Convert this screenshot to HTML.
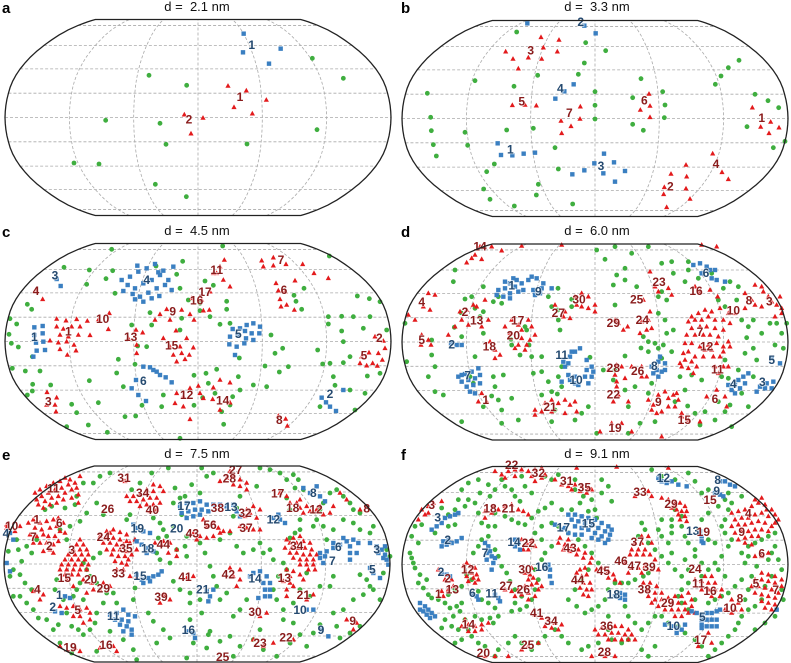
<!DOCTYPE html>
<html><head><meta charset="utf-8"><style>
html,body{margin:0;padding:0;background:#fff;}
svg{display:block;font-family:"Liberation Sans",sans-serif;}
.ttl{font-size:13px;fill:#111;}
.pl{font-size:15px;font-weight:bold;fill:#000;}
.lb{font-size:12px;font-weight:bold;paint-order:stroke;stroke:rgba(255,255,255,0.7);stroke-width:1.6px;}
</style></head><body>
<svg id="fig" width="791" height="663" viewBox="0 0 791 663" xmlns="http://www.w3.org/2000/svg"></svg>
<script>
// point coordinates are figure coordinates (3x zoom units, per panel frame)
const panelNames=["a","b","c","d","e","f"];
const panelTitles=["d =\u00a0 2.1 nm","d =\u00a0 3.3 nm","d =\u00a0 4.5 nm","d =\u00a0 6.0 nm","d =\u00a0 7.5 nm","d =\u00a0 9.1 nm"];
const greenA="937,175;1030,235;447,226;560,256;317,361;480,370;951,389;498,433;741,432;222,489;297,492;466,553;559,590";
const redA="684,258;739,272;799,300;702,322;757,341;553,344;609,354;573,401";
const blueA="731,101;729,157;842,146;807,191";
const labelsA=[["1",755,133,"b"],["1",720,290,"r"],["2",567,357,"r"]];
const greenB="365,96;572,128;632,152;568,189;550,223;428,226;240,242;357,259;97,280;600,275;600,316;600,357;107,352;109,392;210,397;415,385;335,390;218,436;115,434;124,468;480,443;298,492;275,515;490,507;266,567;430,553;424,585;285,598;358,618;533,612;738,236;803,275;713,293;810,315;808,353;713,373;745,391;1032,181;1000,203;978,228;961,253;1080,283;1119,302;1151,323;1056,380;1135,443;1170,424";
const redB="438,112;492,120;332,155;445,143;487,155;400,173;354,177;440,177;370,206;352,316;390,315;424,317;556,320;498,363;555,357;528,379;500,400;762,282;765,318;736,330;765,352;1072,323;1127,366;1097,381;1152,383;1122,400;953,461;873,495;981,517;1000,538;828,522;875,530;808,562;873,566;806,583;885,597;815,622";
const blueB="397,70;568,77;602,100;536,253;508,274;481,296;308,430;318,465;352,466;386,461;420,458;627,461;657,487;598,490;625,520;568,511;532,523;690,513;660,545";
const labelsB=[["2",557,65,"b"],["3",407,150,"r"],["4",496,264,"b"],["5",380,303,"r"],["6",748,300,"r"],["7",523,338,"r"],["1",1100,352,"r"],["1",346,447,"b"],["3",618,497,"b"],["4",963,490,"r"],["2",826,558,"r"]];
const greenC="668,78;335,88;192,142;268,150;338,152;318,176;548,124;468,138;530,163;260,193;82,253;95,268;345,220;540,205;565,240;600,250;615,183;640,196;680,244;680,268;630,290;600,272;660,313;690,310;30,296;50,312;27,343;34,370;55,381;97,410;37,445;76,453;120,453;98,493;152,495;97,513;82,525;215,553;230,578;295,548;268,482;350,459;355,418;395,315;413,378;440,380;405,433;455,315;450,278;545,295;540,330;618,460;582,466;650,448;625,490;490,525;485,560;582,556;665,575;671,613;540,655;322,637;265,615;200,620;370,500;407,588;426,556;375,590;715,470;795,438;760,495;800,500;825,400;848,385;813,345;718,414;698,530;720,510;838,456;865,440;888,244;882,226;905,268;912,205;988,108;953,390;968,432;990,430;1030,428;1050,410;1000,470;1005,496;1030,365;1025,333;985,312;985,290;1025,289;1060,290;1090,325;1110,290;1108,236;1072,228;1140,245;1160,330;1102,468;1140,460;1095,520;1065,570;960,560;1050,510;690,555;645,520;608,533";
const redC="170,297;198,302;230,298;262,303;170,320;190,327;215,320;240,320;180,345;205,350;235,345;270,346;175,368;200,365;222,375;180,388;202,405;228,392;150,362;108,210;128,238;328,280;325,328;295,300;408,330;428,338;410,375;410,400;385,355;500,268;545,270;570,283;480,283;510,300;582,300;465,300;490,355;528,332;560,355;540,380;580,383;510,380;520,405;545,400;555,418;568,405;530,425;575,235;605,240;630,215;628,270;610,272;670,180;690,200;650,160;673,120;660,140;640,160;785,122;820,113;790,140;820,137;858,133;908,133;942,160;985,175;828,190;885,182;855,215;840,238;860,255;843,260;883,270;835,212;525,550;550,530;570,505;530,520;595,498;550,560;570,598;610,535;640,503;600,520;660,480;690,488;660,570;690,548;638,538;141,517;170,533;165,555;168,575;140,555;835,588;857,597;862,618;1085,410;1107,398;1118,430;1135,400;1147,420;1155,385;1080,430;1100,437;1132,438;1125,350;1150,363";
const blueC="365,180;390,170;415,155;440,145;465,132;490,152;520,140;383,195;405,205;430,190;455,180;480,165;505,180;370,213;398,222;420,230;445,218;470,205;495,195;515,210;405,238;430,245;455,235;478,228;412,137;475,157;698,327;720,325;740,315;760,310;780,320;735,333;755,340;778,340;690,350;712,345;738,355;760,360;688,373;710,380;733,370;705,405;103,322;128,318;103,345;128,340;108,368;130,365;110,392;135,390;100,410;170,177;182,198;430,440;450,442;460,450;470,455;480,465;497,472;515,487;408,480;395,505;415,525;438,543;965,533;978,547;990,560;1008,573;1030,510";
const labelsC=[["4",108,212,"r"],["3",165,165,"b"],["10",308,295,"r"],["1",205,333,"r"],["1",103,350,"b"],["13",392,350,"r"],["9",518,273,"r"],["15",515,375,"r"],["4",440,178,"b"],["11",650,148,"r"],["17",615,215,"r"],["16",590,240,"r"],["7",843,118,"r"],["6",852,208,"r"],["5",715,340,"b"],["2",1138,352,"r"],["5",1092,405,"r"],["6",430,482,"b"],["12",560,523,"r"],["14",668,540,"r"],["3",145,543,"r"],["2",990,520,"b"],["8",838,598,"r"]];
const greenD="605,90;660,80;710,100;760,80;630,118;690,145;665,165;655,195;690,180;180,150;175,185;265,200;295,245;210,237;230,230;240,265;265,275;255,290;320,250;310,230;198,278;178,322;200,350;30,310;110,360;110,405;120,440;35,425;100,470;120,515;145,525;265,340;240,410;225,470;235,490;295,470;325,465;300,500;290,528;310,540;265,560;320,570;350,535;200,605;320,610;370,600;390,320;395,330;348,358;350,375;375,405;402,375;410,410;440,410;415,460;440,455;460,485;440,525;470,515;487,522;500,500;490,470;500,440;495,330;490,300;489,205;460,230;530,238;470,260;488,270;530,260;585,412;625,450;690,408;660,450;655,480;690,510;700,560;660,255;725,200;800,215;815,240;790,230;790,280;810,300;835,330;815,340;745,350;760,365;780,370;790,385;805,375;760,395;800,415;738,384;830,395;880,125;880,150;870,185;835,160;800,130;830,125;910,175;950,160;985,205;1005,185;1030,200;970,240;990,260;1025,240;1040,300;1075,300;1060,320;1100,340;1125,310;1145,310;1175,310;1160,340;1140,375;1165,385;1075,385;1085,420;1055,353;1050,400;1030,450;1075,470;990,420;980,470;1000,475;970,545;920,480;890,465;870,510;855,470;840,545;878,558;900,580;930,575;915,615;960,600;990,575;1005,555;1040,520;1060,560;1010,620;770,490;760,520;720,500;735,610;780,605;605,640;700,640;580,560;560,580;540,600;480,570;470,605";
const redD="215,128;240,105;255,80;290,80;320,92;380,78;230,115;260,118;500,75;100,220;120,225;85,260;105,270;40,285;60,300;195,275;215,270;235,255;245,260;270,240;260,320;280,300;200,300;220,315;80,345;100,360;108,375;78,375;160,345;180,320;285,365;300,390;315,405;300,415;350,300;370,315;400,300;410,320;380,330;345,340;380,355;370,375;395,375;405,360;420,345;330,320;360,385;390,390;480,255;505,290;525,295;510,275;540,230;560,220;580,230;600,255;580,265;600,275;560,260;545,255;670,310;685,330;698,320;660,300;740,305;760,300;770,325;755,330;735,340;745,240;765,275;765,155;780,200;820,205;830,225;790,215;900,200;915,215;945,210;968,230;890,290;910,280;930,270;950,275;975,265;1000,280;1020,280;880,305;900,300;920,300;940,290;960,300;985,300;1005,310;890,325;915,320;935,320;960,325;985,330;875,345;900,345;925,345;945,345;970,350;1000,365;870,370;890,370;915,380;940,375;965,370;985,380;865,400;880,395;900,410;930,390;950,390;985,395;1005,380;870,420;890,425;905,440;925,410;955,410;975,410;860,440;880,445;895,460;855,430;960,440;985,440;970,460;1000,440;1050,220;1070,240;1080,195;1100,200;1105,215;1120,230;1130,245;1145,255;1160,265;1140,290;1080,255;1100,260;1160,280;1050,265;260,520;275,545;250,545;420,570;440,575;450,550;470,540;490,550;510,540;525,555;540,545;545,575;510,580;470,575;420,585;640,450;665,435;680,440;660,465;665,485;690,475;665,500;670,525;655,545;700,545;710,440;740,440;740,470;755,470;760,540;775,555;790,525;810,515;820,535;835,525;850,540;770,570;785,580;800,575;820,560;840,560;860,580;845,520;860,590;880,600;915,605;965,510;990,530;995,560;935,530;615,635;650,610;680,610;710,635;800,650;1155,230;965,80;920,75";
const blueD="310,210;330,205;345,190;365,180;380,190;400,180;410,170;425,175;305,225;325,230;345,220;370,215;385,210;330,185;360,200;345,235;355,175;415,210;440,205;445,190;470,205;435,220;420,225;168,370;185,375;200,375;190,470;210,462;230,455;250,445;200,485;220,480;240,475;215,500;235,495;255,490;225,515;240,520;200,465;255,465;505,425;520,430;525,410;530,395;510,440;540,395;555,385;575,420;590,440;595,455;575,450;590,470;570,470;525,480;540,490;550,495;580,490;540,470;520,465;500,485;770,440;790,425;795,410;810,430;785,450;800,455;775,460;810,450;790,470;895,135;915,130;935,140;945,150;960,150;950,175;965,180;990,185;920,160;1000,495;1020,495;1030,480;1045,470;1050,490;1010,510;1020,520;1035,505;1060,460;1085,515;1095,500;1115,490;1135,485;1110,505;1130,505;1130,415;1155,430";
const labelsD=[["14",255,78,"r"],["1",350,195,"b"],["9",430,213,"b"],["4",80,245,"r"],["2",210,275,"r"],["13",245,300,"r"],["5",80,358,"r"],["2",170,372,"b"],["17",368,300,"r"],["20",355,345,"r"],["18",283,378,"r"],["27",490,278,"r"],["30",552,237,"r"],["29",655,308,"r"],["25",725,237,"r"],["24",742,298,"r"],["23",792,185,"r"],["16",903,212,"r"],["6",933,157,"b"],["8",1062,240,"r"],["3",1123,243,"r"],["10",1015,270,"r"],["7",915,335,"r"],["12",935,378,"r"],["11",967,447,"r"],["5",1130,418,"b"],["4",1015,490,"b"],["3",1102,485,"b"],["6",960,535,"r"],["7",218,465,"b"],["1",272,538,"r"],["11",500,403,"b"],["10",543,478,"b"],["28",655,443,"r"],["26",728,452,"r"],["8",778,437,"b"],["22",655,522,"r"],["21",465,560,"r"],["9",790,545,"r"],["15",868,598,"r"],["19",660,623,"r"]];
const greenE="50,290;25,325;55,320;80,310;110,290;95,330;65,355;40,380;60,395;30,400;75,420;95,440;60,460;40,460;80,480;100,500;115,525;140,530;175,545;200,510;215,550;235,560;250,575;270,560;285,540;290,510;310,480;320,450;290,420;270,400;260,380;250,360;280,345;300,330;240,420;230,440;220,460;135,200;155,190;195,195;225,185;230,160;250,120;280,120;300,100;330,90;290,180;260,210;310,215;240,235;210,250;180,260;200,290;170,410;165,440;190,470;250,470;340,450;350,480;400,470;405,435;445,510;460,535;490,560;510,585;470,600;400,620;370,590;330,565;290,625;215,630;180,600;160,560;505,75;455,90;420,120;395,140;390,215;380,230;460,225;480,240;490,260;475,285;500,280;520,250;545,215;540,165;520,180;555,160;525,135;605,75;640,90;620,100;600,150;575,125;560,280;555,310;560,340;530,320;510,360;480,350;470,330;520,415;540,440;570,450;600,470;570,480;605,510;570,530;630,565;625,575;580,600;620,615;660,595;690,580;700,520;720,500;740,470;680,450;660,470;650,430;640,400;630,370;615,330;600,300;660,290;690,270;700,220;710,195;720,160;770,130;780,75;810,80;840,90;860,110;880,95;895,110;885,135;910,140;860,165;870,200;900,230;900,260;885,270;870,285;780,300;760,320;730,330;710,310;790,330;810,320;820,350;850,360;860,380;835,400;820,440;830,470;850,500;850,530;880,540;900,575;870,600;920,610;940,570;960,545;1010,550;1020,585;1050,570;1080,550;1000,510;1030,500;1060,470;1090,455;1080,395;1100,410;1110,430;1120,440;1140,470;1150,390;1120,250;1110,270;1080,260;1060,240;1030,230;1000,260;980,290;970,250;940,250;950,230;960,200;970,180;990,150;1010,140;1030,160;1050,180;1060,200;1080,210;960,430;990,430;1000,400;920,390;900,440;930,460;880,480;780,560;760,590;790,620;830,640;720,610;700,640;560,645;410,650;1170,340;1160,320";
const redE="105,150;120,140;140,130;160,120;180,115;195,105;210,110;110,170;125,160;145,150;165,140;185,135;205,125;225,120;115,185;135,175;155,165;175,160;195,150;215,140;230,135;130,195;150,185;170,180;190,170;215,165;235,155;240,100;235,180;85,240;100,230;120,240;140,235;160,230;175,225;190,240;105,255;125,260;150,255;170,250;90,275;110,280;130,275;145,280;165,280;180,265;100,300;120,300;140,300;160,305;175,295;150,320;130,325;60,250;20,255;45,265;160,330;195,270;240,290;230,305;250,305;220,320;240,320;260,320;205,335;225,335;245,335;265,335;195,350;215,350;235,350;255,350;185,365;205,365;225,365;245,365;265,365;180,380;200,380;220,380;240,380;260,380;195,395;215,395;235,395;320,265;340,260;360,268;380,275;300,280;320,285;340,285;360,290;380,295;310,300;330,300;350,305;370,305;390,300;320,320;340,320;360,320;380,325;335,335;355,340;375,340;345,355;365,360;385,350;330,270;380,160;400,160;420,155;440,150;460,145;480,130;490,145;390,175;410,175;430,170;450,165;470,165;420,190;440,185;460,185;480,180;450,205;470,200;440,140;460,125;375,115;490,295;510,300;530,320;530,340;505,330;485,305;465,300;370,380;390,400;410,405;350,380;380,365;395,335;410,320;405,290;200,410;220,430;250,410;275,420;300,440;310,420;330,430;280,440;260,450;100,445;115,440;130,455;120,470;180,490;200,495;220,490;240,500;260,495;270,510;240,520;220,520;250,540;270,530;180,610;225,615;240,625;300,615;340,610;350,625;660,115;680,105;700,100;720,110;740,120;700,125;720,130;740,140;690,85;610,230;620,250;640,240;655,255;670,265;690,265;600,280;620,285;640,280;660,270;580,270;590,290;720,250;740,255;760,260;780,260;735,220;750,210;770,225;780,200;760,190;740,200;560,405;580,400;700,400;720,410;710,430;690,375;720,380;490,455;510,470;480,480;860,290;880,285;900,280;870,300;890,300;910,295;930,300;855,315;875,315;895,315;915,315;935,320;870,330;890,330;910,335;930,335;950,335;880,345;900,350;920,350;940,350;900,365;920,365;940,365;925,380;945,380;860,380;880,385;900,395;910,410;870,400;850,415;860,440;860,460;880,430;870,420;840,150;860,160;870,180;890,180;900,195;910,210;930,205;950,200;960,190;970,215;990,210;1000,190;1020,150;1040,170;1080,200;900,170;920,190;940,455;920,470;780,520;800,510;880,590;820,600;790,610;760,590;1070,540;1040,530;1060,560;1100,190;20,245";
const blueE="540,190;560,180;580,180;600,175;620,185;640,185;660,185;680,190;700,185;545,210;565,205;585,200;605,200;625,205;560,225;580,220;600,215;710,205;720,220;410,255;430,265;450,270;400,245;425,305;445,315;460,325;410,295;440,330;410,395;425,410;445,405;460,400;475,395;485,385;430,420;450,415;330,515;350,510;370,500;385,515;345,530;365,530;385,535;360,545;380,550;395,560;370,565;395,575;405,520;560,565;580,570;585,585;620,445;630,460;625,475;640,440;760,390;780,385;800,400;790,420;810,420;795,440;810,440;795,460;775,465;810,460;750,400;820,225;840,230;855,240;835,215;910,135;930,150;960,160;950,130;975,175;960,330;980,325;1000,315;1020,305;1040,295;1060,290;1075,300;1000,300;1030,285;1050,310;960,345;975,340;970,360;1050,330;1070,330;1050,350;1110,300;1130,310;1145,320;1155,335;1160,350;1165,365;1135,330;1150,345;1120,390;1140,405;1110,375;1155,310;195,460;210,465;165,505;185,510;30,270;40,290;20,360;30,385;920,500;940,500;965,560;985,580";
const labelsE=[["11",160,135,"r"],["31",372,103,"r"],["34",428,148,"r"],["26",323,197,"r"],["40",457,200,"r"],["17",552,187,"b"],["38",652,193,"r"],["13",693,190,"b"],["32",735,208,"r"],["17",833,150,"r"],["8",940,148,"b"],["18",878,193,"r"],["12",948,198,"r"],["8",1100,195,"r"],["27",707,80,"r"],["28",688,105,"r"],["1",110,228,"r"],["6",178,238,"r"],["10",35,247,"r"],["4",18,270,"b"],["7",100,280,"r"],["2",148,308,"r"],["3",215,320,"r"],["24",310,280,"r"],["35",378,315,"r"],["19",412,255,"b"],["18",443,315,"b"],["44",490,303,"r"],["20",530,255,"b"],["43",577,270,"r"],["56",630,245,"r"],["37",738,253,"r"],["12",820,228,"b"],["34",890,307,"r"],["6",1015,310,"b"],["3",1130,318,"b"],["7",997,352,"b"],["5",1117,378,"b"],["33",355,390,"r"],["15",420,397,"b"],["41",555,400,"r"],["42",685,393,"r"],["14",765,405,"b"],["13",853,403,"r"],["15",193,403,"r"],["20",272,408,"r"],["29",310,435,"r"],["4",112,438,"r"],["1",178,455,"b"],["39",483,460,"r"],["21",608,438,"b"],["21",910,455,"r"],["2",158,490,"b"],["5",233,500,"r"],["11",340,518,"b"],["30",765,505,"r"],["10",900,500,"b"],["9",1058,533,"r"],["16",565,560,"b"],["9",963,560,"b"],["22",858,582,"r"],["23",780,598,"r"],["19",210,612,"r"],["16",318,605,"r"],["25",668,640,"r"]];
const greenF="320,110;330,130;350,140;360,160;375,175;390,130;410,150;380,100;450,100;470,110;490,95;540,110;540,140;565,160;590,170;620,150;620,110;640,130;650,175;600,200;605,225;580,205;555,180;530,200;500,200;470,180;450,195;430,205;410,225;390,245;370,240;350,230;330,220;300,210;300,250;280,250;260,240;250,210;240,180;220,170;210,190;190,170;180,200;160,215;140,195;200,140;220,120;250,110;280,125;300,140;255,150;285,160;160,250;180,245;120,270;80,245;60,250;50,280;70,300;45,330;50,345;55,360;60,375;75,395;95,410;70,420;85,435;100,455;110,465;130,470;150,480;165,495;185,490;200,480;195,505;175,520;150,530;140,555;170,550;190,560;210,530;240,520;260,530;285,525;295,540;310,520;300,495;280,480;260,470;250,445;230,410;215,395;200,430;180,440;160,455;235,330;250,310;260,290;280,280;300,320;310,340;320,370;335,390;345,415;360,440;380,460;360,480;350,505;375,500;395,490;410,470;420,440;430,410;420,380;440,350;450,330;470,310;440,290;420,270;440,250;470,240;490,250;520,270;550,290;570,310;590,330;610,360;580,380;560,410;540,440;520,470;545,490;570,510;590,500;610,490;630,470;640,440;660,420;680,420;700,420;720,410;745,400;760,390;640,520;640,560;650,590;680,600;700,590;610,600;580,610;560,620;520,600;500,580;480,560;450,580;430,600;410,620;380,600;360,580;340,600;310,620;300,640;270,610;250,600;230,580;220,560;200,590;180,600;740,240;750,260;730,280;760,300;780,320;800,340;820,360;840,380;860,400;880,380;870,350;830,330;820,300;830,270;830,250;830,230;800,230;790,260;800,280;840,200;860,220;860,250;870,280;880,300;900,320;900,340;920,360;940,380;920,400;880,420;860,440;850,460;860,480;880,500;900,470;940,480;960,470;980,460;1000,450;1020,430;1040,410;990,400;970,380;960,360;980,340;1000,310;1010,290;990,270;980,250;990,230;1000,200;1010,180;990,170;970,190;940,210;920,230;910,260;940,290;960,300;1060,310;1080,300;1100,290;1120,280;1140,270;1140,310;1130,330;1120,350;1150,350;1160,380;1130,400;1110,430;1100,470;1080,490;1060,500;1040,520;1030,540;1020,560;1000,580;980,600;960,620;940,640;920,610;900,590;870,570;850,550;820,540;800,520;780,520;760,540;740,560;720,540;700,520;690,490;1080,560;1110,540;1140,520;770,80;780,610;760,640;740,620;800,100;840,110;880,90;900,115;920,150;940,140;1000,150;1040,160;1160,440;1165,470;1060,440;1050,470;1070,400;1085,370;1060,340;1040,330;1050,360";
const redF="80,200;100,190;115,180;140,175;90,215;70,230;300,85;320,95;340,85;360,80;380,80;400,85;420,80;440,75;410,100;440,105;450,95;420,115;330,105;360,100;480,110;500,125;520,130;540,125;560,130;580,135;530,140;555,145;575,150;590,140;545,75;665,72;270,205;290,210;310,200;330,190;350,185;370,200;385,205;400,215;295,190;270,225;760,145;770,160;820,75;720,160;800,165;820,170;840,180;855,180;870,190;830,195;845,200;860,205;875,205;850,215;870,220;855,230;875,235;840,185;1010,210;1030,205;1050,200;1070,190;1090,180;1110,185;1130,200;1140,215;1150,230;1020,230;1040,225;1060,225;1080,215;1100,210;1120,220;1140,240;1010,250;1030,245;1050,245;1070,240;1090,235;1110,240;1130,250;1020,270;1040,265;1060,265;1080,260;1100,260;1120,265;1030,290;1050,285;1070,280;1090,280;1050,300;1070,305;1080,170;1100,165;1115,200;380,290;395,300;410,295;420,310;400,320;385,320;490,300;510,305;530,310;550,320;570,330;590,345;505,320;525,325;545,335;565,345;585,360;520,290;495,285;710,320;730,320;750,320;720,300;740,300;760,280;740,280;770,300;705,335;725,335;745,335;765,335;780,350;205,370;225,370;240,375;210,385;230,390;245,395;215,400;235,405;250,410;220,415;240,420;215,360;150,410;170,410;175,430;160,440;140,445;145,460;130,460;390,390;405,395;415,405;400,410;410,375;330,440;350,445;370,440;390,430;410,425;425,420;380,455;400,450;430,440;360,460;400,470;420,460;440,430;545,390;560,400;575,395;545,415;565,420;585,420;555,435;575,440;590,440;565,455;580,460;570,375;555,380;605,380;620,375;640,385;655,395;640,405;660,410;675,420;690,360;710,375;730,375;750,370;770,380;790,380;700,390;740,390;745,420;765,420;785,430;760,440;780,450;800,450;760,460;780,470;800,470;770,480;790,490;820,465;840,460;860,460;880,450;830,480;850,480;870,480;890,470;810,500;830,500;850,500;870,500;890,490;840,520;860,520;880,510;900,510;900,410;920,415;940,420;960,420;930,400;950,400;940,440;960,440;980,440;950,460;975,460;920,440;1010,470;1030,480;1020,500;1040,500;990,500;1010,510;1100,390;1120,395;1140,400;1160,410;1080,410;1100,410;1120,415;1140,420;1160,430;1070,430;1090,430;1110,435;1130,440;1150,450;1080,450;1100,455;1120,460;1140,465;1100,475;1120,480;1140,485;1110,495;1130,500;1120,330;1100,340;1080,340;200,550;220,545;240,550;260,545;280,540;220,565;240,565;260,560;210,530;420,515;440,525;460,530;480,540;500,545;450,550;470,555;490,560;600,560;620,555;640,555;660,550;680,550;700,560;610,575;630,575;650,570;670,570;690,575;710,575;640,590;660,590;680,590;700,590;720,590;270,640;300,640;340,640;380,620;400,610;430,600;590,640;630,640;660,640;910,610;950,600;940,570;130,380;100,210";
const blueF="110,260;125,250;140,240;150,225;165,220;180,215;190,210;140,310;155,305;170,300;185,295;200,285;145,295;160,290;270,300;280,310;285,325;290,340;295,360;290,380;275,330;275,350;300,345;360,290;370,300;375,320;360,310;520,215;540,215;560,220;580,225;600,230;620,240;640,250;650,260;530,230;550,235;570,240;590,245;610,255;630,265;645,275;560,255;580,260;600,270;620,280;640,290;590,285;610,290;630,300;560,275;540,250;480,245;500,260;520,270;540,275;510,255;460,365;465,380;465,400;470,420;455,370;140,390;155,395;165,400;245,460;250,470;235,455;300,455;310,465;315,475;660,460;675,465;690,470;675,450;690,455;800,115;815,120;830,115;850,125;875,130;790,105;975,115;990,115;1005,125;1020,130;960,150;975,155;985,160;915,265;920,280;920,295;925,300;890,505;905,510;920,515;935,510;950,510;965,505;975,500;920,530;920,545;920,555;935,530;950,530;965,530;935,550;950,550;965,550;810,545;830,550;845,555;860,560;845,570;870,545;75,480;90,490;100,500;110,510;120,520;85,505;95,515;75,500;105,525;1145,500";
const labelsF=[["22",350,65,"r"],["32",430,88,"r"],["31",515,112,"r"],["35",568,132,"r"],["33",735,145,"r"],["12",805,103,"b"],["8",968,110,"b"],["9",965,142,"b"],["15",945,170,"r"],["3",110,185,"r"],["18",285,195,"r"],["21",340,195,"r"],["29",828,182,"r"],["4",1060,210,"r"],["3",128,222,"b"],["17",505,252,"b"],["15",580,240,"b"],["13",893,262,"b"],["19",925,265,"r"],["9",1040,265,"r"],["2",158,290,"b"],["7",270,328,"b"],["14",357,296,"b"],["22",400,298,"r"],["43",525,313,"r"],["37",727,295,"r"],["46",678,353,"r"],["47",718,367,"r"],["39",762,370,"r"],["12",218,378,"r"],["2",138,385,"b"],["2",158,405,"r"],["13",172,438,"r"],["1",130,452,"r"],["6",232,448,"b"],["11",290,450,"b"],["27",333,428,"r"],["26",385,438,"r"],["30",390,378,"r"],["16",440,370,"b"],["44",548,410,"r"],["45",625,383,"r"],["24",900,377,"r"],["6",1100,330,"r"],["11",910,420,"r"],["16",945,443,"r"],["5",1083,420,"r"],["7",1142,440,"r"],["38",748,438,"r"],["29",818,478,"r"],["8",1035,465,"r"],["10",1005,493,"r"],["5",922,520,"b"],["10",835,548,"b"],["18",655,453,"b"],["41",425,508,"r"],["34",468,533,"r"],["14",220,543,"r"],["36",635,548,"r"],["17",917,590,"r"],["25",398,605,"r"],["20",265,628,"r"],["28",628,625,"r"]];

const NS="http://www.w3.org/2000/svg";
const svg=document.getElementById('fig');
const frames=[{ox:0,oy:0,cx:198,cy:117.5,lx:2,tx:197,ty:11},{ox:395,oy:0,cx:595,cy:118.5,lx:401,tx:597,ty:11},
{ox:0,oy:220,cx:198,cy:341.5,lx:2,tx:197,ty:235},{ox:395,oy:220,cx:595,cy:342,lx:401,tx:597,ty:235},
{ox:0,oy:443,cx:197,cy:564,lx:2,tx:197,ty:458},{ox:395,oy:443,cx:595,cy:564.5,lx:401,tx:597,ty:458}];
const datasets=[[greenA,redA,blueA,labelsA],[greenB,redB,blueB,labelsB],[greenC,redC,blueC,labelsC],[greenD,redD,blueD,labelsD],[greenE,redE,blueE,labelsE],[greenF,redF,blueF,labelsF]];
const RX=[1,.9986,.9954,.99,.9822,.973,.96,.9427,.9216,.8962,.8679,.835,.7986,.7597,.7186,.6732,.6213,.5722,.5322];
const RY=[0,.062,.124,.186,.248,.31,.372,.434,.4958,.5571,.6176,.6769,.7346,.7903,.8435,.8936,.9394,.9761,1];
const HW=193,HH=98;
function rob(lat){const a=Math.abs(lat)/5,i=Math.min(17,Math.floor(a)),t=a-i;return [RX[i]+(RX[i+1]-RX[i])*t,(RY[i]+(RY[i+1]-RY[i])*t)*Math.sign(lat)];}
function proj(f,lon,lat){const r=rob(lat);return [f.cx+HW*r[0]*lon/180,f.cy-HH*r[1]];}
function sx(f,v){return f.ox+v/3;}
function sy(f,v){return f.oy+v/3;}
function mk(tag,attrs,parent){const e=document.createElementNS(NS,tag);for(const k in attrs)e.setAttribute(k,attrs[k]);(parent||svg).appendChild(e);return e;}
function parse(s){return s.split(';').map(p=>p.split(',').map(Number));}

frames.forEach((f,pi)=>{
  const g=mk('g',{});
  
  
  const lt=mk('text',{x:f.lx,y:f.ty+2,class:'pl'},g);lt.textContent=panelNames[pi];
  
  
  const tt=mk('text',{x:f.tx,y:f.ty,class:'ttl','text-anchor':'middle'},g);tt.textContent=panelTitles[pi];
  
  
  for(let lat=-80;lat<=80;lat+=20){
    const a=proj(f,-180,lat),b=proj(f,180,lat);
    const l=mk('line',{x1:a[0],y1:a[1],x2:b[0],y2:b[1],stroke:'#aaa','stroke-width':0.8,'stroke-dasharray':'3,2'},g);
    
    
  }
  for(let lon=-120;lon<=120;lon+=60){
    let d='';for(let lat=-90;lat<=90;lat+=2.5){const p=proj(f,lon,lat);d+=(d?'L':'M')+p[0].toFixed(2)+','+p[1].toFixed(2);}
    const m=mk('path',{d:d,fill:'none',stroke:'#aaa','stroke-width':0.8,'stroke-dasharray':'3,2'},g);
    
    
  }
  let d='';
  for(let lat=-90;lat<=90;lat+=2.5){const p=proj(f,180,lat);d+=(d?'L':'M')+p[0].toFixed(2)+','+p[1].toFixed(2);}
  for(let lat=90;lat>=-90;lat-=2.5){const p=proj(f,-180,lat);d+='L'+p[0].toFixed(2)+','+p[1].toFixed(2);}
  const ds=datasets[pi];
  parse(ds[0]).forEach(p=>{const c=mk('circle',{cx:sx(f,p[0]),cy:sy(f,p[1]),r:2.4,fill:'#3fae3f'},g);
    
    });
  parse(ds[1]).forEach(p=>{const x=sx(f,p[0]),y=sy(f,p[1]);
    const t=mk('polygon',{points:`${x},${y-2.9} ${x-2.6},${y+1.8} ${x+2.6},${y+1.8}`,fill:'#e31a1c'},g);
    
    });
  parse(ds[2]).forEach(p=>{const s=mk('rect',{x:sx(f,p[0])-2.2,y:sy(f,p[1])-2.2,width:4.4,height:4.4,fill:'#3a7fc1'},g);
    
    });
  ds[3].forEach(L=>{const t=mk('text',{x:sx(f,L[1]),y:sy(f,L[2])+4.5,class:'lb','text-anchor':'middle',fill:L[3]==='r'?'#8a1c1c':'#254a70'},g);t.textContent=L[0];
    
    });
  const o=mk('path',{d:d+'Z',fill:'none',stroke:'#222','stroke-width':1.3},g);
  
  
});
</script>
</body></html>
